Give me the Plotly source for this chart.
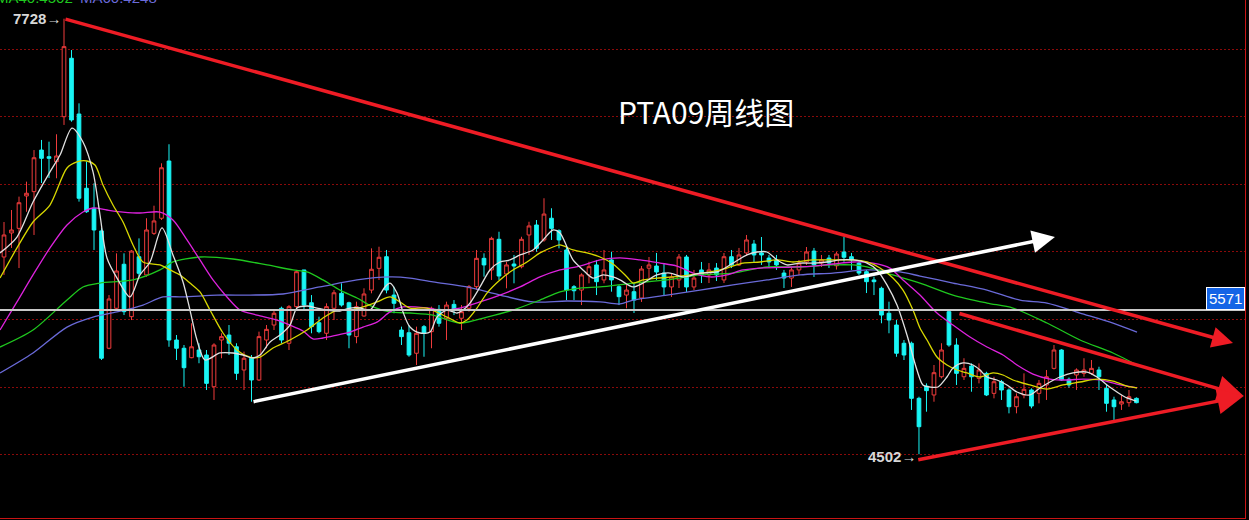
import plotly.graph_objects as go

# ---------------- data (weekly candles) ----------------
opens = [5963, 6141, 6175, 6415, 6447, 6755, 6706, 6669, 7002, 7435,
         7022, 6472, 6324, 6156, 5287, 5583, 5909, 5521, 5965, 5830,
         6138, 6250, 6674, 5348, 5287, 5217, 5274, 5237, 5002, 5348,
         5385, 5298, 5126, 5213, 5052, 5348, 5459, 5583, 5324, 5595,
         5867, 5624, 5476, 5398, 5583, 5694, 5624, 5373, 5526, 5718,
         5879, 5965, 5681, 5422, 5402, 5250, 5447, 5410, 5575, 5509,
         5612, 5509, 5583, 5743, 5953, 5867, 6094, 5837, 5911, 5891,
         6126, 6200, 6089, 6250, 6158, 6015, 5743, 5718, 5830, 5904,
         5793, 5941, 5743, 5681, 5706, 5659, 5880, 5896, 5844, 5741,
         5793, 5963, 5741, 5867, 5830, 5881, 5793, 5965, 5904, 5993,
         6059, 5993, 5955, 5941, 5844, 5807, 5867, 5926, 6007, 5918,
         5955, 5898, 6000, 5965, 5918, 5854, 5793, 5731, 5546, 5459,
         5324, 5324, 4916, 5007, 4941, 5076, 5558, 5311, 5076, 5155,
         5064, 5101, 4953, 5039, 4978, 4854, 4941, 4978, 4953, 5015,
         5138, 5274, 5057, 5089, 5101, 5101, 5126, 4990, 4904, 4874,
         4884, 4916]
highs = [6222, 6311, 6410, 6521, 6755, 6830, 6817, 6872, 7728, 7496,
         7101, 6669, 6509, 6178, 5681, 5990, 5990, 6015, 6101, 6250,
         6343, 6657, 6798, 5385, 5311, 5472, 5324, 5274, 5324, 5398,
         5459, 5324, 5262, 5237, 5410, 5459, 5570, 5595, 5607, 5867,
         5867, 5681, 5521, 5620, 5718, 5768, 5632, 5632, 5731, 6027,
         6039, 6015, 5743, 5447, 5459, 5447, 5459, 5595, 5607, 5632,
         5644, 5607, 5755, 6015, 5990, 6113, 6150, 5928, 5978, 6113,
         6224, 6237, 6398, 6324, 6168, 6052, 5755, 5842, 5928, 5941,
         6015, 6002, 5755, 5755, 5768, 5896, 5963, 5993, 5911, 5844,
         5985, 5978, 5867, 5926, 5918, 5918, 5993, 6015, 6030, 6126,
         6089, 6111, 5978, 5978, 5867, 5889, 5941, 6037, 6030, 5978,
         5978, 6000, 6113, 5993, 5926, 5867, 5817, 5743, 5632, 5496,
         5348, 5336, 4928, 5027, 5163, 5324, 5570, 5361, 5213, 5175,
         5175, 5113, 5076, 5052, 4990, 4953, 5101, 4990, 5052, 5126,
         5311, 5280, 5070, 5138, 5213, 5200, 5150, 5015, 4928, 4941,
         4978, 4923]
lows = [5830, 6030, 5881, 6298, 6126, 6511, 6548, 6546, 6941, 6965,
        6373, 6290, 6015, 5200, 5280, 5570, 5533, 5496, 5817, 5817,
        6126, 6237, 5298, 5200, 5002, 5213, 5176, 4978, 4904, 5213,
        5237, 5052, 4978, 4891, 5045, 5287, 5422, 5324, 5274, 5570,
        5570, 5398, 5398, 5348, 5496, 5595, 5287, 5324, 5521, 5694,
        5793, 5694, 5546, 5311, 5224, 5163, 5224, 5287, 5447, 5348,
        5533, 5422, 5558, 5718, 5817, 5793, 5793, 5731, 5768, 5879,
        5978, 6002, 6076, 6089, 6027, 5644, 5644, 5607, 5768, 5681,
        5768, 5706, 5607, 5583, 5548, 5630, 5807, 5793, 5674, 5667,
        5733, 5704, 5718, 5770, 5770, 5785, 5770, 5881, 5896, 5970,
        5926, 5904, 5881, 5867, 5733, 5741, 5830, 5904, 5815, 5889,
        5881, 5870, 5928, 5867, 5830, 5696, 5681, 5472, 5398, 5224,
        5200, 4830, 4502, 4817, 4891, 5064, 5298, 5015, 5052, 4965,
        5027, 4933, 4916, 4904, 4805, 4805, 4916, 4842, 4879, 4904,
        5130, 5045, 4995, 4978, 5076, 5089, 4978, 4817, 4756, 4830,
        4854, 4879]
closes = [6126, 6163, 6365, 6435, 6698, 6694, 6694, 6711, 7521, 6978,
          6398, 6298, 6163, 5213, 5652, 5859, 5558, 6007, 5842, 6163,
          6230, 6624, 5348, 5287, 5143, 5298, 5224, 5027, 5311, 5373,
          5324, 5101, 5213, 5052, 5373, 5427, 5546, 5348, 5595, 5854,
          5607, 5447, 5410, 5595, 5698, 5607, 5385, 5595, 5689, 5872,
          5961, 5718, 5620, 5373, 5237, 5398, 5398, 5583, 5472, 5607,
          5570, 5558, 5743, 5953, 5904, 6101, 5822, 5904, 5896, 6094,
          6193, 6027, 6281, 6175, 6089, 5718, 5713, 5830, 5891, 5780,
          5867, 5793, 5669, 5718, 5644, 5874, 5904, 5852, 5741, 5815,
          5963, 5741, 5807, 5830, 5867, 5830, 5965, 5904, 5978, 6089,
          5978, 5978, 5926, 5904, 5807, 5867, 5918, 6000, 5904, 5941,
          5918, 5985, 5961, 5941, 5844, 5780, 5780, 5533, 5496, 5250,
          5237, 4916, 4706, 4973, 5106, 5274, 5311, 5101, 5138, 5076,
          5126, 4941, 5039, 4978, 4854, 4928, 4983, 4859, 5027, 5076,
          5274, 5052, 5015, 5126, 5126, 5138, 5076, 4879, 4854, 4891,
          4928, 4884]
weeks = list(range(len(closes)))

# moving averages (sampled along each line: week position, price)
ma5_x = [-0.53, 1.73, 3.87, 6.13, 7.47, 9.07, 10.53, 11.87, 12.8, 13.73, 15.07, 16.8, 18.13, 19.47,
         21.07, 22.53, 23.87, 24.8, 25.73, 26.8, 28.8, 30.53, 31.87, 33.07, 34.13, 35.47, 36.8,
         38.13, 39.07, 40.4, 41.73, 43.07, 44.8, 46.13, 47.47, 48.8, 49.73, 50.8, 51.47, 52.4,
         53.2, 54.13, 55.47, 56.8, 57.73, 59.07, 60.4, 61.2, 62.13, 63.47, 64.8, 66.13, 67.47,
         68.8, 70.53, 71.87, 73.2, 74.13, 75.07, 75.87, 77.2, 78.53, 79.87, 81.2, 82.13, 83.87,
         85.2, 87.07, 88.8, 90.53, 92.8, 95.07, 97.2, 99.07, 100.4, 101.73, 103.07, 104.4,
         106.13, 107.87, 109.73, 111.47, 113.2, 115.07, 116.4, 117.73, 119.07, 120.4, 121.73,
         122.53, 123.47, 124.53, 125.73, 126.53, 127.87, 129.2, 130.13, 131.07, 132.4, 133.73,
         135.07, 136.8, 138.13, 139.47, 140.8, 142.53, 144.4, 145.73, 147.07, 148.4, 149.73, 151.0]
ma5_y = [5993, 6111, 6370, 6593, 6718, 6918, 6815, 6593, 6274, 5956, 5807, 5667, 5830, 5926,
         6178, 5978, 5778, 5570, 5348, 5200, 5252, 5252, 5237, 5215, 5237, 5333, 5385,
         5459, 5585, 5600, 5585, 5570, 5563, 5585, 5585, 5570, 5644, 5741, 5770, 5696,
         5556, 5444, 5400, 5407, 5518, 5570, 5548, 5570, 5622, 5741, 5867, 5926, 5941,
         5978, 6015, 6089, 6163, 6141, 6037, 5941, 5867, 5807, 5830, 5815, 5793, 5741,
         5770, 5830, 5844, 5815, 5844, 5852, 5918, 5978, 6000, 6000, 5941, 5904,
         5918, 5918, 5926, 5941, 5941, 5918, 5867, 5756, 5607, 5385, 5126,
         5015, 5000, 5000, 5074, 5141, 5178, 5163, 5126, 5074, 5052, 5015,
         4963, 4941, 4993, 5037, 5074, 5104, 5111, 5074, 5015, 4963, 4919, 4896]

ma10_x = [-0.53, 1.73, 3.87, 6.13, 8.4, 9.73, 11.07, 12.13, 13.2, 14.53, 15.87, 17.2, 18.53, 20.8,
          22.13, 23.47, 24.8, 26.13, 27.47, 29.2, 31.07, 32.8, 34.13, 35.87, 38.13, 40.4, 42.53,
          44.4, 46.13, 47.87, 49.73, 51.47, 52.8, 54.13, 56.4, 59.07, 60.8, 61.73, 63.07, 64.4,
          66.13, 67.87, 69.73, 71.47, 73.2, 74.13, 75.87, 77.73, 79.47, 81.2, 83.07, 83.87, 85.2,
          87.07, 89.2, 91.47, 94.13, 96.4, 98.53, 100.8, 103.07, 105.2, 107.87, 110.53, 113.2,
          115.07, 116.8, 118.53, 119.87, 121.2, 122.13, 123.07, 124.4, 125.73, 127.07, 128.4,
          130.13, 131.87, 133.2, 134.53, 136.8, 139.07, 141.2, 143.47, 145.73, 147.87, 149.73, 151.07]
ma10_y = [5807, 6030, 6222, 6348, 6622, 6667, 6674, 6644, 6496, 6348, 6222, 6052, 5926, 5904,
          5867, 5830, 5770, 5704, 5570, 5400, 5274, 5222, 5222, 5289, 5348, 5422, 5511,
          5570, 5570, 5593, 5630, 5667, 5630, 5585, 5585, 5518, 5474, 5496, 5585, 5696,
          5793, 5867, 5926, 5993, 6037, 6052, 6015, 5993, 5963, 5911, 5815, 5770, 5793,
          5807, 5815, 5830, 5852, 5881, 5918, 5926, 5941, 5926, 5941, 5941, 5941,
          5926, 5881, 5807, 5718, 5570, 5437, 5348, 5222, 5163, 5126, 5104,
          5074, 5104, 5089, 5052, 5015, 4985, 5015, 5037, 5059, 5044, 5007, 4993]

ma20_x = [-0.53, 1.73, 3.87, 6.13, 8.4, 10.53, 11.87, 13.73, 15.87, 18.13, 20.8, 22.53, 24.4, 26.13,
          27.87, 29.73, 31.47, 33.73, 36.4, 38.13, 39.87, 41.2, 42.53, 44.4, 46.13, 47.87, 49.73,
          51.47, 53.2, 56.4, 58.13, 60.8, 63.47, 66.13, 68.8, 71.47, 74.13, 76.8, 79.47, 82.13,
          84.8, 87.47, 89.73, 91.87, 94.13, 96.4, 98.53, 100.8, 105.2, 107.87, 110.53, 113.2,
          115.87, 118.13, 119.87, 122.13, 124.4, 126.53, 128.8, 131.07, 133.2, 135.07, 137.2,
          139.47, 141.73, 143.87, 146.13, 148.4, 151.07]
ma20_y = [5422, 5630, 5830, 6030, 6200, 6296, 6326, 6311, 6296, 6289, 6296, 6237, 6089, 5941,
          5793, 5667, 5570, 5533, 5496, 5459, 5415, 5356, 5363, 5385, 5407, 5444, 5481,
          5556, 5593, 5585, 5570, 5585, 5630, 5681, 5741, 5815, 5867, 5896, 5941, 5956,
          5941, 5918, 5896, 5844, 5815, 5830, 5867, 5881, 5889, 5896, 5911, 5926,
          5918, 5881, 5793, 5681, 5548, 5459, 5370, 5296, 5237, 5163, 5096,
          5059, 5052, 5059, 5052, 5022, 4993]

ma40_x = [-0.53, 3.87, 8.4, 10.53, 12.8, 17.2, 20.8, 22.53, 26.13, 30.53, 35.07, 38.53, 40.4, 42.53,
          44.8, 47.07, 49.2, 51.47, 54.13, 57.2, 60.8, 64.4, 67.87, 71.47, 74.13, 76.8, 79.47,
          83.87, 88.4, 92.8, 97.2, 101.73, 106.13, 110.53, 113.2, 115.07, 118.53, 122.13, 126.53,
          131.07, 134.53, 139.07, 143.47, 147.87, 151.07]
ma40_y = [5296, 5422, 5644, 5741, 5770, 5793, 5867, 5926, 5963, 5948, 5904, 5867, 5852, 5793,
          5718, 5659, 5593, 5556, 5548, 5533, 5474, 5518, 5570, 5644, 5704, 5733, 5741,
          5770, 5793, 5830, 5844, 5889, 5889, 5904, 5904, 5889, 5830, 5770, 5681,
          5622, 5585, 5474, 5348, 5252, 5163]

ma60_x = [-0.53, 3.87, 8.4, 11.87, 15.07, 18.53, 21.2, 23.87, 28.4, 32.8, 37.2, 42.13, 47.07, 51.47,
          54.13, 57.2, 61.73, 66.13, 70.53, 75.07, 79.47, 82.13, 83.87, 88.4, 92.8, 97.2, 101.73,
          106.13, 110.53, 115.07, 119.47, 122.13, 126.53, 131.07, 135.47, 139.07, 143.47, 147.87,
          151.07]
ma60_y = [5104, 5252, 5444, 5518, 5556, 5607, 5667, 5667, 5681, 5681, 5689, 5741, 5793, 5815,
          5807, 5778, 5741, 5681, 5630, 5637, 5630, 5615, 5644, 5681, 5718, 5756, 5793,
          5830, 5844, 5867, 5852, 5822, 5770, 5718, 5644, 5622, 5548, 5474, 5407]

ref_price = 5571
high_week, high_price = 8, 7728
low_week, low_price = 122, 4502
legend_texts = ["MA40:4502", "MA60:4248"]
title_text = "PTA09周线图"

# hand-drawn trend lines: (tail week, tail price, tip week, tip price)
trend_lines = [
    (8, 7728, 163.87, 5326),
    (127.2, 5548, 165.3, 4933),
    (121.7, 4459, 165.3, 4933),
    (33.07, 4889, 140.13, 6111),
]
trend_colors = ["#EE1C25", "#EE1C25", "#EE1C25", "#FFFFFF"]
trend_heads = [1.2, 1.5, 1.5, 1.3]

# ---------------- figure ----------------
RED_UP = "#F03C3C"
CYAN = "#19F5F5"

fig = go.Figure()
fig.add_trace(go.Candlestick(
    x=weeks, open=opens, high=highs, low=lows, close=closes,
    increasing=dict(line=dict(color=RED_UP, width=1), fillcolor="#000000"),
    decreasing=dict(line=dict(color=CYAN, width=1), fillcolor=CYAN),
    whiskerwidth=0, hoverinfo="skip", showlegend=False,
))

for xs, ys, col in [(ma60_x, ma60_y, "#6A6AD8"), (ma40_x, ma40_y, "#1FC81F"),
                    (ma20_x, ma20_y, "#DD22DD"), (ma10_x, ma10_y, "#D8D800"),
                    (ma5_x, ma5_y, "#E0E0E0")]:
    fig.add_trace(go.Scatter(x=xs, y=ys, mode="lines",
                             line=dict(color=col, width=1.3, shape="spline", smoothing=0.8),
                             hoverinfo="skip", showlegend=False))

# reference price line
fig.add_shape(type="line", xref="paper", x0=0, x1=1, yref="y", y0=ref_price, y1=ref_price,
              line=dict(color="#C8C8C8", width=2))

annotations = []
for (tx, ty, hx, hy), col, hs in zip(trend_lines, trend_colors, trend_heads):
    annotations.append(dict(x=hx, y=hy, ax=tx, ay=ty, xref="x", yref="y", axref="x", ayref="y",
                            text="", showarrow=True, arrowhead=2, arrowsize=hs,
                            arrowwidth=3.5, arrowcolor=col, standoff=0, startstandoff=0))

label_font = dict(family="Liberation Sans, Arial", size=15, color="#D8D8D8")
annotations.append(dict(x=high_week, y=high_price, xref="x", yref="y", text=f"<b>{high_price}</b>→",
                        showarrow=False, xanchor="right", yanchor="middle", xshift=-1, font=label_font))
annotations.append(dict(x=low_week, y=low_price, xref="x", yref="y", text=f"<b>{low_price}</b>→",
                        showarrow=False, xanchor="right", yanchor="middle", xshift=-1, yshift=-2,
                        font=label_font))
annotations.append(dict(x=1, y=ref_price, xref="paper", yref="y", text=str(ref_price),
                        showarrow=False, xanchor="right", yanchor="bottom",
                        font=dict(family="Liberation Sans, Arial", size=15, color="#FFFFFF"),
                        bgcolor="#1464E6", bordercolor="#FFFFFF", borderwidth=1, borderpad=2))
annotations.append(dict(x=0.567, y=0.786, xref="paper", yref="paper", text=title_text,
                        showarrow=False, xanchor="center", yanchor="middle",
                        font=dict(family="Noto Sans CJK SC", size=30, color="#FFFFFF")))
annotations.append(dict(x=0, y=1, xref="paper", yref="paper", text=legend_texts[0],
                        showarrow=False, xanchor="left", yanchor="middle", xshift=-6, yshift=3,
                        font=dict(family="Liberation Sans, Arial", size=15, color="#1FC81F")))
annotations.append(dict(x=0, y=1, xref="paper", yref="paper", text=legend_texts[1],
                        showarrow=False, xanchor="left", yanchor="middle", xshift=78, yshift=3,
                        font=dict(family="Liberation Sans, Arial", size=15, color="#6A6AD8")))

fig.update_layout(
    width=1249, height=520,
    margin=dict(l=0, r=4, t=0, b=2),
    paper_bgcolor="#000000", plot_bgcolor="#000000",
    showlegend=False, hovermode=False,
    annotations=annotations,
    xaxis=dict(range=[-0.533, 165.47], showgrid=False, zeroline=False, showticklabels=False,
               ticks="", showline=True, linecolor="#C81414", linewidth=1,
               rangeslider=dict(visible=False), fixedrange=True),
    yaxis=dict(range=[4029.7, 7866.5], side="right", showticklabels=False, ticks="",
               zeroline=False, showline=True, linecolor="#C81414", linewidth=1,
               tickvals=[4500, 5000, 5500, 6000, 6500, 7000, 7500],
               showgrid=True, gridcolor="#8A0A0A", gridwidth=1, griddash="2px,2px",
               fixedrange=True),
)

fig.write_html("out.html", config={"displayModeBar": False})

# remove default page margins so the chart fills the window exactly
with open("out.html", "r", encoding="utf-8") as f:
    html = f.read()
html = html.replace("<head>", "<head><style>html,body{margin:0;padding:0;overflow:hidden;background:#000;}</style>", 1)
with open("out.html", "w", encoding="utf-8") as f:
    f.write(html)
